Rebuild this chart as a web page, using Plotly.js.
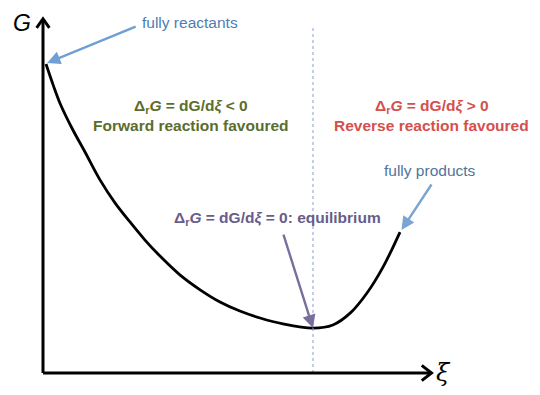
<!DOCTYPE html>
<html><head><meta charset="utf-8">
<script src="https://cdn.plot.ly/plotly-3.0.1.min.js"></script>
<style>html,body{margin:0;padding:0;background:#fff}#chart{width:540px;height:395px}</style>
</head><body><div id="chart"></div>
<script>
// reaction coordinate (0 = fully reactants) and Gibbs energy, arbitrary units
const xi = [0.008, 0.027, 0.045, 0.077, 0.112, 0.152, 0.192, 0.232, 0.272, 0.312, 0.365, 0.419, 0.472, 0.525, 0.579, 0.640, 0.720, 0.773, 0.819, 0.864, 0.907, 0.952];
const G  = [0.888, 0.828, 0.776, 0.704, 0.635, 0.555, 0.489, 0.434, 0.382, 0.336, 0.282, 0.239, 0.204, 0.178, 0.158, 0.141, 0.129, 0.138, 0.172, 0.230, 0.305, 0.405];
const xiEq = 0.72;
const GEq = 0.129;
const labels = {
  reactants: "fully reactants",
  products: "fully products",
  forward: ["Δ<sub>r</sub><i>G</i> = dG/d<i>ξ</i> &lt; 0", "Forward reaction favoured"],
  reverse: ["Δ<sub>r</sub><i>G</i> = dG/d<i>ξ</i> &gt; 0", "Reverse reaction favoured"],
  equil: "Δ<sub>r</sub><i>G</i> = dG/d<i>ξ</i> = 0: equilibrium",
  yTitle: "G",
  xTitle: "ξ"
};

const font = "Liberation Sans, Arial, Helvetica, sans-serif";
const traces = [{
  x: xi, y: G, type: "scatter", mode: "lines",
  line: {color: "#000", width: 2.8, shape: "spline", smoothing: 1},
  hoverinfo: "skip"
}];

const ann = [];
function txt(x, y, text, color, size, bold, family) {
  ann.push({x, y, xref: "paper", yref: "paper", xanchor: "center", yanchor: "middle",
    text: bold ? "<b>" + text + "</b>" : text,
    showarrow: false, font: {family: family || font, size, color}});
}
function arrow(x, y, ax, ay, color) {
  ann.push({x, y, xref: "x", yref: "y", text: "", showarrow: true, ax, ay, axref: "pixel", ayref: "pixel",
    arrowhead: 2, arrowsize: 1.1, arrowwidth: 2.4, arrowcolor: color});
}
txt(0.392, 1.006, labels.reactants, "#4d7eb3", 15.5, false);
arrow(xi[0] + 0.003, G[0] + 0.003, 90, -37, "#6f9fd3");
txt(0.395, 0.766, labels.forward[0], "#5b6d2d", 15.5, true);
txt(0.395, 0.712, labels.forward[1], "#5b6d2d", 15.5, true);
txt(1.037, 0.766, labels.reverse[0], "#d4504d", 15.5, true);
txt(1.037, 0.712, labels.reverse[1], "#d4504d", 15.5, true);
txt(1.032, 0.583, labels.products, "#51759c", 15.5, false);
arrow(xi[xi.length - 1] + 0.004, G[G.length - 1] + 0.006, 31, -47, "#7aa5d0");
txt(0.624, 0.445, labels.equil, "#675c8a", 15.5, true);
arrow(xiEq, GEq, -30, -95, "#7a6f9c");
txt(-0.056, 1.006, "<i>" + labels.yTitle + "</i>", "#000", 23, false);
txt(1.069, 0.0, "<i>" + labels.xTitle + "</i>", "#000", 24, false, "DejaVu Serif, serif");

const shapes = [
  {type: "line", xref: "x", yref: "paper", x0: xiEq, x1: xiEq, y0: 0, y1: 1,
   line: {color: "#8c9bd0", width: 1, dash: "dot"}},
  {type: "line", xref: "paper", yref: "paper", x0: 0, x1: 0, y0: 0, y1: 1.016, line: {color: "#000", width: 3}},
  {type: "line", xref: "paper", yref: "paper", x0: 0, x1: 1.033, y0: 0, y1: 0, line: {color: "#000", width: 3}},
  {type: "path", xref: "paper", yref: "paper", path: "M -0.017,0.992 L 0,1.018 L 0.017,0.992", line: {color: "#000", width: 3}},
  {type: "path", xref: "paper", yref: "paper", path: "M 1.01,0.022 L 1.036,0 L 1.01,-0.022", line: {color: "#000", width: 3}}
];

const layout = {
  width: 540, height: 395,
  margin: {l: 43, r: 122, t: 25, b: 22},
  paper_bgcolor: "#fff", plot_bgcolor: "#fff",
  showlegend: false,
  xaxis: {range: [0, 1], visible: false, fixedrange: true},
  yaxis: {range: [0, 1], visible: false, fixedrange: true},
  annotations: ann, shapes
};
Plotly.newPlot("chart", traces, layout, {displayModeBar: false, staticPlot: true});
</script></body></html>
